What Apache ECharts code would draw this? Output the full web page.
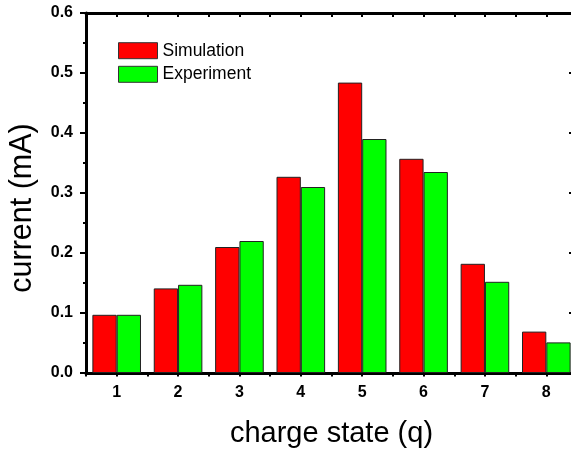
<!DOCTYPE html>
<html>
<head>
<meta charset="utf-8">
<script src="https://cdn.jsdelivr.net/npm/echarts@6/dist/echarts.min.js"></script>
<style>
  html, body { margin: 0; padding: 0; background: #fff; }
  #chart { width: 571px; height: 450px; }
</style>
</head>
<body>
<div id="chart"></div>
<script>
// Charge-state distribution of the extracted ion current
const chargeStates = ['1', '2', '3', '4', '5', '6', '7', '8'];
const simulation = [0.097, 0.141, 0.210, 0.327, 0.484, 0.357, 0.182, 0.069];
const experiment = [0.097, 0.147, 0.220, 0.310, 0.390, 0.335, 0.152, 0.051];
const yTicks = { min: 0, max: 0.6, step: 0.1 };

const FONT = 'Liberation Sans, Arial, sans-serif';
const AX = { color: '#000', width: 3 };

const chart = echarts.init(document.getElementById('chart'), null, { renderer: 'canvas' });

const hiddenLabel = { show: false };

chart.setOption({
  animation: false,
  backgroundColor: '#fff',
  grid: { left: 86, top: 13, width: 491, height: 360, containLabel: false, outerBoundsMode: 'none' },
  legend: {
    orient: 'vertical',
    left: 113,
    top: 36.7,
    icon: 'rect',
    itemWidth: 39,
    itemHeight: 16,
    itemGap: 5.6,
    itemStyle: { borderColor: '#333', borderWidth: 1 },
    textStyle: { fontFamily: FONT, fontSize: 17.5, color: '#000', lineHeight: 16 },
    data: ['Simulation', 'Experiment']
  },
  xAxis: [
    {
      type: 'category',
      position: 'bottom',
      data: chargeStates,
      boundaryGap: true,
      name: 'charge state (q)',
      nameLocation: 'middle',
      nameGap: 46,
      nameTextStyle: { fontFamily: FONT, fontSize: 29, color: '#000' },
      axisLine: { lineStyle: AX },
      axisTick: { alignWithLabel: true, length: 6, lineStyle: { color: '#000', width: 2 } },
      axisLabel: { fontFamily: FONT, fontSize: 16, fontWeight: 'bold', color: '#000', margin: 12 },
      splitLine: { show: false }
    },
    {
      type: 'value',
      position: 'bottom',
      min: 0.5, max: 8.5, interval: 0.5,
      axisLine: { show: false },
      axisTick: { show: true, length: 3.5, lineStyle: { color: '#000', width: 2 } },
      axisLabel: hiddenLabel,
      splitLine: { show: false }
    },
    {
      type: 'category',
      position: 'top',
      data: chargeStates,
      boundaryGap: true,
      axisLine: { lineStyle: AX },
      axisTick: { alignWithLabel: true, inside: true, length: 7, lineStyle: { color: '#000', width: 2 } },
      axisLabel: hiddenLabel,
      splitLine: { show: false }
    },
    {
      type: 'value',
      position: 'top',
      min: 0.5, max: 8.5, interval: 0.5,
      axisLine: { show: false },
      axisTick: { show: true, inside: true, length: 4, lineStyle: { color: '#000', width: 2 } },
      axisLabel: hiddenLabel,
      splitLine: { show: false }
    }
  ],
  yAxis: [
    {
      type: 'value',
      position: 'left',
      min: yTicks.min, max: yTicks.max, interval: yTicks.step,
      name: 'current (mA)',
      nameLocation: 'middle',
      nameGap: 48,
      nameTextStyle: { fontFamily: FONT, fontSize: 30.5, color: '#000', padding: [0, 30, 0, 0] },
      axisLine: { show: true, lineStyle: AX },
      axisTick: { show: true, length: 6, lineStyle: { color: '#000', width: 2 } },
      minorTick: { show: true, splitNumber: 2, length: 3, lineStyle: { color: '#000', width: 2 } },
      axisLabel: {
        fontFamily: FONT, fontSize: 16, fontWeight: 'bold', color: '#000', margin: 13,
        formatter: v => v.toFixed(1)
      },
      splitLine: { show: false },
      minorSplitLine: { show: false }
    },
    {
      type: 'value',
      position: 'right',
      min: yTicks.min, max: yTicks.max, interval: yTicks.step,
      axisLine: { show: true, lineStyle: AX },
      axisTick: { show: true, inside: true, length: 8, lineStyle: { color: '#000', width: 2 } },
      minorTick: { show: true, splitNumber: 2, length: 3, lineStyle: { color: '#000', width: 2 } },
      axisLabel: hiddenLabel,
      splitLine: { show: false }
    }
  ],
  series: [
    {
      name: 'Simulation',
      type: 'bar',
      xAxisIndex: 0,
      yAxisIndex: 0,
      data: simulation,
      barWidth: 24.3,
      barGap: '0%',
      itemStyle: { color: '#ff0000', borderColor: '#222', borderWidth: 1 }
    },
    {
      name: 'Experiment',
      type: 'bar',
      xAxisIndex: 0,
      yAxisIndex: 0,
      data: experiment,
      barWidth: 24.3,
      barGap: '0%',
      itemStyle: { color: '#00ff00', borderColor: '#222', borderWidth: 1 }
    }
  ]
});
</script>
</body>
</html>
